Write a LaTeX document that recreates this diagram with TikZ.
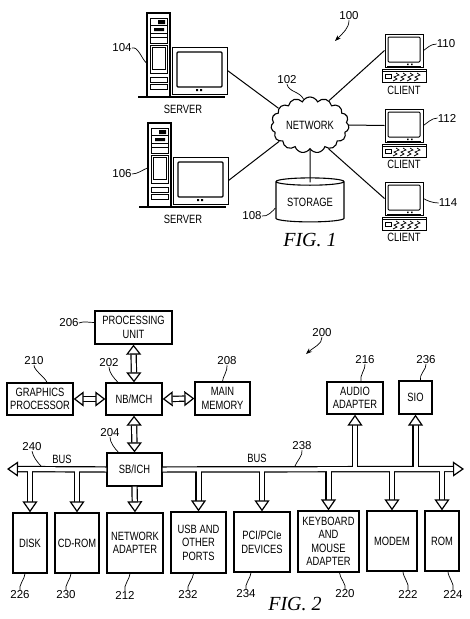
\documentclass[tikz,border=0pt]{standalone}
\usepackage{fontspec}
\setmainfont{Liberation Sans}
\newfontfamily\boxfont[FakeStretch=0.78]{Liberation Sans}
\newfontfamily\figfont{Liberation Serif}
\usetikzlibrary{arrows.meta,shapes.symbols,shapes.geometric,calc}
\tikzset{
 x=1pt,y=-1pt,
 box/.style={draw,line width=1.3pt,inner sep=0pt,align=center,fill=white,font=\boxfont\fontsize{12}{13.5}\selectfont},
 txt/.style={inner sep=0pt,align=center,font=\boxfont\fontsize{12}{13.5}\selectfont},
 ref/.style={inner sep=0pt,font=\fontsize{11.5}{13}\selectfont},
 lead/.style={line width=.7pt},
 conn/.style={line width=1pt},
 fig/.style={inner sep=0pt,font=\figfont\itshape\fontsize{20}{22}\selectfont},
 dbl/.style={double,line width=1.2pt,double distance=4pt},
 hd/.style={-{Triangle[length=11pt,width=15pt,fill=white,line width=1.2pt]}},
 hdd/.style={{Triangle[length=10pt,width=15pt,fill=white,line width=1.2pt]}-{Triangle[length=10pt,width=15pt,fill=white,line width=1.2pt]}},
 pics/server/.style={code={
  \node[draw,line width=1.3pt,minimum width=23pt,minimum height=84pt,inner sep=0pt] (-tower) at (11.5,42) {};
  \draw[line width=.6pt] (3,5) rectangle (20,30) (3,12) -- (20,12) (3,20) -- (20,20) (3,24) -- (20,24);
  \fill (11,7) rectangle (18,11) (7,15) rectangle (17,18);
  \draw[line width=.7pt] (3,32) rectangle (20,60) (5,34) rectangle (18,56);
  \draw[line width=.6pt] (3,64) rectangle (20,69) (3,71) rectangle (20,76);
  \node[draw,line width=1pt,minimum width=55pt,minimum height=47pt,inner sep=0pt] (-mon) at (52.5,57.5) {};
  \draw[line width=1.1pt,rounded corners=1pt] (30,39) rectangle (75,74);
  \fill (49,76) rectangle +(2,2) (53,76) rectangle +(2,2);
  \draw[line width=1.2pt] (-9,84) -- (78,84);
 }},
 pics/client/.style={code={
  \node[draw,line width=1pt,minimum width=38pt,minimum height=33pt,inner sep=0pt] (-mon) at (19,16.5) {};
  \draw[line width=1pt,rounded corners=1pt] (3,3) rectangle (35,28);
  \fill (22,29.5) rectangle +(1.5,1.5) (26,29.5) rectangle +(1.5,1.5);
  \draw[line width=1.3pt] (2,33) -- (36,33);
  \draw[line width=.9pt] (-3,35) rectangle (41,48);
  \draw[line width=.5pt] (-3,37.5) -- (41,37.5);
  \draw[line width=.6pt] (0,40) rectangle (6,44);
  \foreach \k in {11,18,25,32}{\draw[line width=.7pt] (\k,39) -- (\k+3,41) -- (\k-2,43) -- (\k+1,45) -- (\k-3,47);}
 }},
}
\newcommand{\lead}[4]{\draw[lead] (#1) .. controls +(#3) and +(#4) .. (#2);}
\begin{document}
\begin{tikzpicture}
\useasboundingbox (0,0) rectangle (469,619);
% FIG 1
\pic (s1) at (147,13) {server};
\pic (s2) at (148,123) {server};
\pic (c1) at (385,34) {client};
\pic (c2) at (385,109) {client};
\pic (c3) at (385,182) {client};
\node[txt] (t1) at (183,109) {SERVER};
\node[txt] (t2) at (183,219) {SERVER};
\node[txt] (t3) at (404,90) {CLIENT};
\node[txt] (t4) at (404,164) {CLIENT};
\node[txt] (t5) at (404,237) {CLIENT};
\node[cylinder,draw,line width=1.1pt,shape border rotate=90,shape aspect=.16,minimum width=68pt,minimum height=44pt,inner sep=0pt,font=\boxfont\fontsize{12}{13}\selectfont] (stor) at (310,202) {STORAGE};
\node[cloud,draw,line width=1.1pt,cloud puffs=15,cloud puff arc=130,aspect=1.5,minimum width=78pt,minimum height=56pt,inner sep=0pt,fill=white,font=\boxfont\fontsize{12}{13}\selectfont] (net) at (310,125) {NETWORK};
\draw[conn] (s1-mon.east) -- (net.152);
\draw[conn] (s2-mon.east) -- (net.208);
\draw[conn] (c1-mon.west) -- (net.52);
\draw[conn] (c2-mon.west) -- (net.east);
\draw[conn] (c3-mon.west) -- (net.-52);
\draw[conn] (net.south) -- ([yshift=-5pt]stor.north);
\node[fig] (f1) at (310,240) {FIG. 1};
\node[ref] (l100) at (349,16) {100};
\node[ref] (l102) at (287,80) {102};
\node[ref] (l104) at (122,48) {104};
\node[ref] (l106) at (122,174) {106};
\node[ref] (l108) at (252,216) {108};
\node[ref] (l110) at (446,44) {110};
\node[ref] (l112) at (447,118) {112};
\node[ref] (l114) at (448,203) {114};
\coordinate (a100) at (335,41);
\draw[lead,-{Stealth[length=6pt]}] (l100.south) .. controls +(0,8) and +(8,-8) .. (a100);
\lead{l102.south}{net.104}{2,8}{-4,-8}
\lead{l104.east}{[yshift=-8pt]s1-tower.west}{6,-2}{-5,-5}
\lead{l106.east}{[yshift=-3pt]s2-tower.west}{6,0}{-5,2}
\lead{l108.east}{[yshift=-6pt]stor.west}{6,1}{-3,3}
\lead{l110.west}{[yshift=0pt]c1-mon.east}{-6,0}{3,-2}
\lead{l112.west}{c2-mon.east}{-6,0}{3,-2}
\lead{l114.west}{c3-mon.east}{-6,0}{3,2}
% FIG 2
\node[box,minimum width=77pt,minimum height=33pt] (pu) at (133.5,327.5) {PROCESSING\\UNIT};
\node[box,minimum width=56pt,minimum height=32pt] (nb) at (134,399) {NB/MCH};
\node[box,minimum width=66pt,minimum height=32pt] (gp) at (40,399) {GRAPHICS\\PROCESSOR};
\node[box,minimum width=55pt,minimum height=33pt] (mm) at (222.5,398.5) {MAIN\\MEMORY};
\node[box,minimum width=55pt,minimum height=33pt] (sb) at (134.5,469.5) {SB/ICH};
\node[box,minimum width=56pt,minimum height=32pt] (aa) at (355,398) {AUDIO\\ADAPTER};
\node[box,minimum width=33pt,minimum height=33pt] (sio) at (415.5,397.5) {SIO};
\node[box,minimum width=34pt,minimum height=60pt] (disk) at (30,543) {DISK};
\node[box,minimum width=44pt,minimum height=60pt] (cd) at (77,543) {CD-ROM};
\node[box,minimum width=56pt,minimum height=60pt] (na) at (135,543) {NETWORK\\ADAPTER};
\node[box,minimum width=55pt,minimum height=61pt] (usb) at (198.5,542.5) {USB AND\\OTHER\\PORTS};
\node[box,minimum width=56pt,minimum height=60pt] (pci) at (262,542) {PCI/PCIe\\DEVICES};
\node[box,minimum width=61pt,minimum height=61pt] (kb) at (328.5,541.5) {KEYBOARD\\AND\\MOUSE\\ADAPTER};
\node[box,minimum width=50pt,minimum height=60pt] (mod) at (392,541) {MODEM};
\node[box,minimum width=34pt,minimum height=60pt] (rom) at (442,541) {ROM};
\coordinate (bus) at (0,469);
\coordinate (bl) at (7,469);
\coordinate (br) at (464,469);
\draw[dbl,hdd] (pu.south) -- (nb.north);
\draw[dbl,hdd] (nb.south) -- (sb.north);
\draw[dbl,hdd] (gp.east) -- (nb.west);
\draw[dbl,hdd] (nb.east) -- (mm.west);
\draw[dbl,hd] (sb.south) -- (na.north);
\foreach \n in {disk,cd,usb,pci,kb,mod,rom}{\draw[dbl,hd] (\n.north |- bus) -- (\n.north);}
\foreach \n in {aa,sio}{\draw[dbl,hd] (\n.south |- bus) -- (\n.south);}
\draw[dbl,hd] (sb.west) -- (bl);
\draw[dbl,hd] (sb.east) -- (br);
\foreach \n in {disk,cd,usb,pci,kb,mod,rom}{\draw[white,line width=4pt] (\n.north |- bus) -- ++(0,6);}
\foreach \n in {aa,sio}{\draw[white,line width=4pt] (\n.south |- bus) -- ++(0,-6);}
\node[txt] (b1) at (62,459) {BUS};
\node[txt] (b2) at (257,458) {BUS};
\node[fig] (f2) at (295,604) {FIG. 2};
\node[ref] (l200) at (322,333) {200};
\node[ref] (l206) at (69,323) {206};
\node[ref] (l210) at (34,361) {210};
\node[ref] (l202) at (109,363) {202};
\node[ref] (l208) at (227,361) {208};
\node[ref] (l204) at (110,433) {204};
\node[ref] (l240) at (32,447) {240};
\node[ref] (l238) at (302,446) {238};
\node[ref] (l216) at (365,360) {216};
\node[ref] (l236) at (426,360) {236};
\node[ref] (l226) at (20,595) {226};
\node[ref] (l230) at (66,595) {230};
\node[ref] (l212) at (125,595) {212};
\node[ref] (l232) at (188,595) {232};
\node[ref] (l234) at (246,594) {234};
\node[ref] (l220) at (345,594) {220};
\node[ref] (l222) at (408,594) {222};
\node[ref] (l224) at (453,594) {224};
\coordinate (a200) at (306,354);
\coordinate (bt1) at (41,466);
\coordinate (bt2) at (295,466);
\draw[lead,-{Stealth[length=6pt]}] (l200.south) .. controls +(0,7) and +(8,-7) .. (a200);
\lead{l206.east}{[yshift=5pt]pu.west}{5,-2}{-5,0}
\lead{l210.south}{[xshift=7pt]gp.north}{0,5}{-2,-5}
\lead{l202.south}{[xshift=-16pt]nb.north}{0,5}{-4,-4}
\lead{l208.south}{mm.north}{1,5}{0,-4}
\lead{l204.south}{[xshift=-16pt]sb.north}{0,5}{-4,-4}
\lead{l240.south}{bt1}{1,5}{-4,-4}
\lead{l238.south}{bt2}{1,5}{2,-5}
\lead{l216.south}{[xshift=6pt]aa.north}{1,4}{-2,-5}
\lead{l236.south}{[xshift=5pt]sio.north}{1,4}{-2,-5}
\lead{l226.north}{[xshift=-5pt]disk.south}{-2,-5}{0,5}
\lead{l230.north}{[xshift=-6pt]cd.south}{-2,-5}{0,5}
\lead{l212.north}{[xshift=-5pt]na.south}{-2,-5}{0,5}
\lead{l232.north}{[xshift=-5pt]usb.south}{-2,-5}{0,5}
\lead{l234.north}{[xshift=-11pt]pci.south}{-2,-5}{0,5}
\lead{l220.north}{[xshift=11pt]kb.south}{2,-5}{0,5}
\lead{l222.north}{[xshift=11pt]mod.south}{2,-5}{0,5}
\lead{l224.north}{[xshift=6pt]rom.south}{2,-5}{0,5}
\end{tikzpicture}
\end{document}
